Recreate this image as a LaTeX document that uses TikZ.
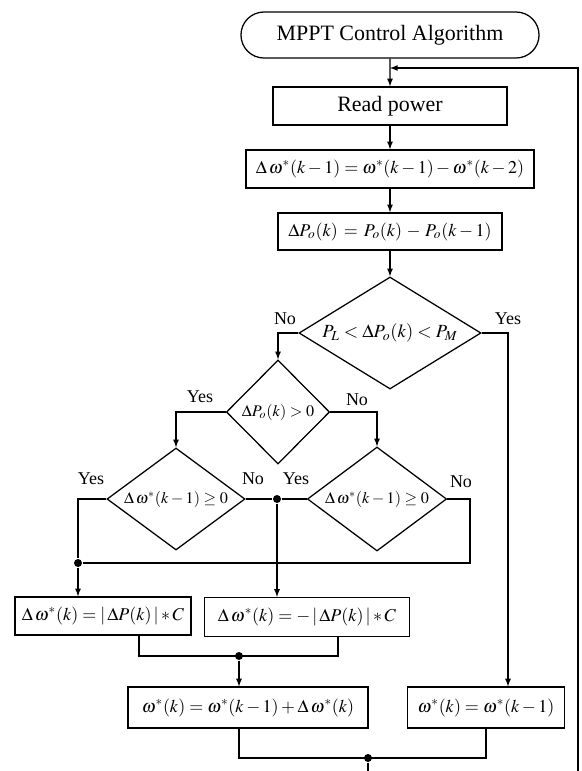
\documentclass[tikz,border=0pt]{standalone}
\usepackage{mathptmx}
\usepackage[no-math]{fontspec}
\setmainfont{Liberation Serif}
\usetikzlibrary{shapes.geometric,shapes.misc}
\newcommand{\inbox}[1]{\makebox[0pt]{#1}}

\begin{document}
\begin{tikzpicture}[x=0.025cm,y=-0.025cm,>=latex,line width=0.9pt,
    block/.style={draw,rectangle,inner sep=0pt,font=\fontsize{12.8}{15}\selectfont},
    decision/.style={draw,diamond,inner sep=0pt,font=\fontsize{11.5}{13}\selectfont},
    answer/.style={font=\fontsize{12.8}{14}\selectfont},
    junction/.style={circle,fill,inner sep=0pt,minimum size=0.2cm}]
    \useasboundingbox (0,0) rectangle (581,771);
    \node[draw,rounded rectangle,inner sep=0pt,minimum width=7.45cm,minimum height=1.15cm,font=\fontsize{15.6}{17}\selectfont] (start) at (390,35) {MPPT Control Algorithm};
    \node[block,minimum width=5.85cm,minimum height=0.95cm,font=\fontsize{15.6}{17}\selectfont] (read) at (390,106) {Read power};
    \node[block,minimum width=7.2cm,minimum height=0.95cm] (dw) at (390,169) {$\Delta\,\omega^{*}(k-1)=\omega^{*}(k-1)-\omega^{*}(k-2)$};
    \node[block,minimum width=5.6cm,minimum height=0.93cm] (dp) at (390,231.5) {$\Delta P_{o}(k)\,=\,P_{o}(k)\,-\,P_{o}(k-1)$};
    \node[decision,minimum width=4.55cm,minimum height=2.8cm,font=\fontsize{13.2}{15}\selectfont] (d1) at (390,333) {\inbox{$P_{L}<\Delta P_{o}(k)<P_{M}$}};
    \node[decision,minimum width=2.58cm,minimum height=2.6cm] (d2) at (278,412) {\inbox{$\Delta P_{o}(k)>0$}};
    \node[decision,minimum width=3.45cm,minimum height=2.55cm] (d3) at (176,499) {\inbox{$\Delta\,\omega^{*}(k-1)\geq 0$}};
    \node[decision,minimum width=3.48cm,minimum height=2.6cm] (d4) at (377,499) {\inbox{$\Delta\,\omega^{*}(k-1)\geq 0$}};
    \node[block,minimum width=4.4cm,minimum height=0.95cm] (b5) at (103,616) {$\Delta\,\omega^{*}(k)=|\,\Delta P(k)\,|*C$};
    \node[block,minimum width=5.12cm,minimum height=0.97cm] (b6) at (307,617) {$\Delta\,\omega^{*}(k)=-\,|\,\Delta P(k)\,|*C$};
    \node[block,minimum width=6cm,minimum height=1.02cm] (b7) at (248,707.5) {$\omega^{*}(k)=\omega^{*}(k-1)+\Delta\,\omega^{*}(k)$};
    \node[block,minimum width=3.94cm,minimum height=1.02cm] (b8) at (486,707.5) {$\omega^{*}(k)=\omega^{*}(k-1)$};
    \node[answer] (no1) at (285,319) {No};
    \node[answer] (yes1) at (508,319) {Yes};
    \node[answer] (yes2) at (200,397) {Yes};
    \node[answer] (no2) at (357,400) {No};
    \node[answer] (yes3) at (91,479) {Yes};
    \node[answer] (no3) at (253,479) {No};
    \node[answer] (yes4) at (296,479) {Yes};
    \node[answer] (no4) at (461,482) {No};
    \node[junction] (j1) at (78,563) {};
    \node[junction] (j2) at (277,499) {};
    \node[junction] (j3) at (239,656) {};
    \node[junction] (j4) at (368,758) {};
    \coordinate (join) at (390,68);
    \coordinate (c4) at (470,563);
    \coordinate (m5) at (139,656);
    \coordinate (m6) at (338,656);
    \coordinate (loop) at (578,778);
    \draw[->] (start) -- (read);
    \draw[->] (read) -- (dw);
    \draw[->] (dw) -- (dp);
    \draw[->] (dp) -- (d1);
    \draw[->] (d1.west) -| (d2.north);
    \draw[->] (d1.east) -| (b8.north -| yes1);
    \draw[->] (d2.west) -| (d3.north);
    \draw[->] (d2.east) -| (d4.north);
    \draw (d3.west) -| (j1);
    \draw (d3.east) -- (j2) -- (d4.west);
    \draw (d4.east) -| (c4) -- (j1);
    \draw[->] (j1) -- (j1 |- b5.north);
    \draw[->] (j2) -- (j2 |- b6.north);
    \draw (m5 |- b5.south) -- (m5) -- (m6) -- (m6 |- b6.south);
    \draw[->] (j3) -- (j3 |- b7.north);
    \draw (j3 |- b7.south) -- (j3 |- j4) -- (b8.south |- j4) -- (b8.south);
    \draw[->] (j4) |- (loop) |- (join);
\end{tikzpicture}
\end{document}
